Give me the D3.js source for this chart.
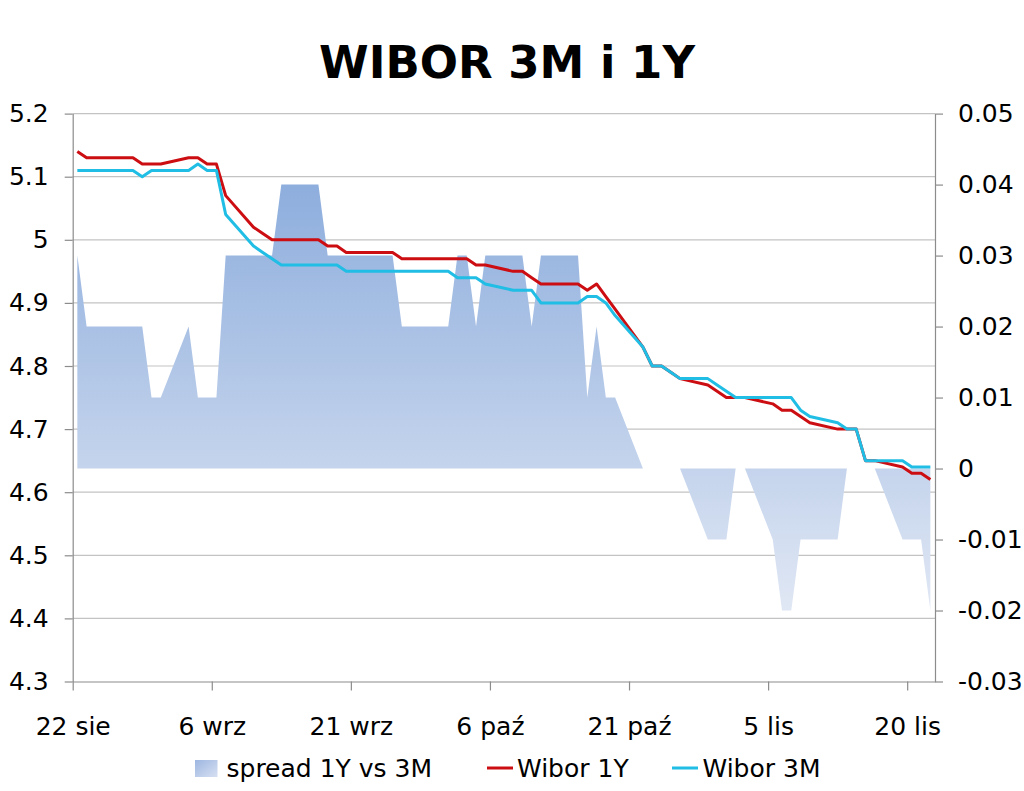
<!DOCTYPE html>
<html>
<head>
<meta charset="utf-8">
<style>
body { margin: 0; background: #fff; }
svg text { font-family: "DejaVu Sans", Verdana, sans-serif; fill: #000; }
.title { font-size: 45px; font-weight: bold; }
.axis text { font-size: 25px; }
.axis path, .axis line { stroke: #8c8c8c; stroke-width: 1.2; }
.grid line { stroke: #c3c3c3; stroke-width: 1.2; }
.legend text { font-size: 25px; }
.line { fill: none; stroke-width: 3; stroke-linejoin: round; }
</style>
</head>
<body>
<svg width="1024" height="791"></svg>
<script src="https://d3js.org/d3.v7.min.js"></script>
<script>
// business days shown on the chart
var dates = ["2012-08-22","2012-08-23","2012-08-24","2012-08-27","2012-08-28","2012-08-29","2012-08-30","2012-08-31",
  "2012-09-03","2012-09-04","2012-09-05","2012-09-06","2012-09-07","2012-09-10","2012-09-11","2012-09-12","2012-09-13","2012-09-14",
  "2012-09-17","2012-09-18","2012-09-19","2012-09-20","2012-09-21","2012-09-24","2012-09-25","2012-09-26","2012-09-27","2012-09-28",
  "2012-10-01","2012-10-02","2012-10-03","2012-10-04","2012-10-05","2012-10-08","2012-10-09","2012-10-10","2012-10-11","2012-10-12",
  "2012-10-15","2012-10-16","2012-10-17","2012-10-18","2012-10-19","2012-10-22","2012-10-23","2012-10-24","2012-10-25","2012-10-26",
  "2012-10-29","2012-10-30","2012-10-31","2012-11-01","2012-11-02","2012-11-05","2012-11-06","2012-11-07","2012-11-08","2012-11-09",
  "2012-11-12","2012-11-13","2012-11-14","2012-11-15","2012-11-16","2012-11-19","2012-11-20","2012-11-21","2012-11-22"];

var wibor1Y = [5.14,5.13,5.13,5.13,5.13,5.12,5.12,5.12,
  5.13,5.13,5.12,5.12,5.07,5.02,5.01,5.00,5.00,5.00,5.00,4.99,4.99,4.98,4.98,4.98,4.98,4.97,4.97,4.97,
  4.97,4.97,4.97,4.96,4.96,4.95,4.95,4.94,4.93,4.93,4.93,4.92,4.93,4.91,4.89,4.83,4.80,4.80,4.79,4.78,4.77,4.76,4.75,
  4.75,4.75,4.74,4.73,4.73,4.72,4.71,4.70,4.70,4.70,4.65,4.65,4.64,4.63,4.63,4.62];

var wibor3M = [5.11,5.11,5.11,5.11,5.11,5.10,5.11,5.11,
  5.11,5.12,5.11,5.11,5.04,4.99,4.98,4.97,4.96,4.96,4.96,4.96,4.96,4.95,4.95,4.95,4.95,4.95,4.95,4.95,
  4.95,4.94,4.94,4.94,4.93,4.92,4.92,4.92,4.90,4.90,4.90,4.91,4.91,4.90,4.88,4.83,4.80,4.80,4.79,4.78,4.78,4.77,4.76,
  4.75,4.75,4.75,4.75,4.75,4.73,4.72,4.71,4.70,4.70,4.65,4.65,4.65,4.64,4.64,4.64];

var spread = [0.03,0.02,0.02,0.02,0.02,0.02,0.01,0.01,
  0.02,0.01,0.01,0.01,0.03,0.03,0.03,0.03,0.04,0.04,0.04,0.03,0.03,0.03,0.03,0.03,0.03,0.02,0.02,0.02,
  0.02,0.03,0.03,0.02,0.03,0.03,0.03,0.02,0.03,0.03,0.03,0.01,0.02,0.01,0.01,0,0,0,0,0,-0.01,-0.01,-0.01,
  0,0,-0.01,-0.02,-0.02,-0.01,-0.01,-0.01,0,0,0,0,-0.01,-0.01,-0.01,-0.02];

var xTickDates = ["2012-08-22","2012-09-06","2012-09-21","2012-10-06","2012-10-21","2012-11-05","2012-11-20"];
var xTickLabels = ["22 sie","6 wrz","21 wrz","6 paź","21 paź","5 lis","20 lis"];
var yLeftTicks = [4.3,4.4,4.5,4.6,4.7,4.8,4.9,5.0,5.1,5.2];
var yRightTicks = [-0.03,-0.02,-0.01,0,0.01,0.02,0.03,0.04,0.05];
var seriesNames = ["spread 1Y vs 3M","Wibor 1Y","Wibor 3M"];

var svg = d3.select("svg");
var plotLeft = 72.7, plotRight = 935, plotTop = 113.6, plotBottom = 681.5;

var parse = d3.utcParse("%Y-%m-%d");
// excel date axis: each point sits in the middle of its day
var x = d3.scaleUtc()
  .domain([parse("2012-08-22"), parse("2012-11-23")])
  .range([plotLeft, plotRight]);
var yL = d3.scaleLinear().domain([4.3, 5.2]).range([plotBottom, plotTop]);
var yR = d3.scaleLinear().domain([-0.03, 0.05]).range([plotBottom, plotTop]);

var rows = dates.map(function(d, i) {
  return {date: d3.utcHour.offset(parse(d), 12), y1: wibor1Y[i], m3: wibor3M[i], s: spread[i]};
});

var fmt = function(d) { return String(+d.toFixed(2)); };

var defs = svg.append("defs");
var grad = defs.append("linearGradient")
  .attr("id", "areaGrad")
  .attr("gradientUnits", "userSpaceOnUse")
  .attr("x1", 0).attr("y1", plotTop).attr("x2", 0).attr("y2", plotBottom);
grad.append("stop").attr("offset", 0).attr("stop-color", "#80a4d9");
grad.append("stop").attr("offset", 1).attr("stop-color", "#eef1f8");

var keyGrad = defs.append("linearGradient")
  .attr("id", "keyGrad").attr("x1", 0).attr("y1", 0).attr("x2", 1).attr("y2", 1);
keyGrad.append("stop").attr("offset", 0).attr("stop-color", "#9db6e0");
keyGrad.append("stop").attr("offset", 1).attr("stop-color", "#d7e0f2");

// title
svg.append("text")
  .attr("class", "title")
  .attr("x", 507).attr("y", 78)
  .attr("text-anchor", "middle")
  .text("WIBOR 3M i 1Y");

// gridlines
svg.append("g").attr("class", "grid")
  .selectAll("line")
  .data(yLeftTicks.slice(1))
  .enter().append("line")
  .attr("x1", plotLeft).attr("x2", plotRight)
  .attr("y1", function(d) { return yL(d); })
  .attr("y2", function(d) { return yL(d); });

// spread area on the right axis
var area = d3.area()
  .x(function(d) { return x(d.date); })
  .y0(yR(0))
  .y1(function(d) { return yR(d.s); });

svg.append("path")
  .datum(rows)
  .attr("d", area)
  .attr("fill", "url(#areaGrad)");

var line1Y = d3.line()
  .x(function(d) { return x(d.date); })
  .y(function(d) { return yL(d.y1); });
var line3M = d3.line()
  .x(function(d) { return x(d.date); })
  .y(function(d) { return yL(d.m3); });

svg.append("path").datum(rows).attr("class", "line")
  .attr("stroke", "#cc0e12").attr("d", line1Y);
svg.append("path").datum(rows).attr("class", "line")
  .attr("stroke", "#20bde4").attr("d", line3M);

// axes
svg.append("g").attr("class", "axis")
  .attr("transform", "translate(" + plotLeft + ",0)")
  .call(d3.axisLeft(yL).tickValues(yLeftTicks).tickFormat(fmt)
    .tickSize(8).tickSizeOuter(0).tickPadding(16));

svg.append("g").attr("class", "axis")
  .attr("transform", "translate(" + plotRight + ",0)")
  .call(d3.axisRight(yR).tickValues(yRightTicks).tickFormat(fmt)
    .tickSize(8).tickSizeOuter(0).tickPadding(15));

svg.append("g").attr("class", "axis")
  .attr("transform", "translate(0," + plotBottom + ")")
  .call(d3.axisBottom(x).tickValues(xTickDates.map(parse))
    .tickFormat(function(d, i) { return xTickLabels[i]; })
    .tickSize(9).tickSizeOuter(0).tickPadding(26.5));

svg.selectAll(".axis .domain").attr("fill", "none");

// legend
var legend = svg.append("g").attr("class", "legend");
legend.append("rect")
  .attr("x", 195).attr("y", 760).attr("width", 22.5).attr("height", 17)
  .attr("fill", "url(#keyGrad)");
legend.append("text").attr("x", 226.5).attr("y", 777).text(seriesNames[0]);
legend.append("line")
  .attr("x1", 487).attr("x2", 513).attr("y1", 768).attr("y2", 768)
  .attr("stroke", "#cc0e12").attr("stroke-width", 3);
legend.append("text").attr("x", 517).attr("y", 777).text(seriesNames[1]);
legend.append("line")
  .attr("x1", 672).attr("x2", 698).attr("y1", 768).attr("y2", 768)
  .attr("stroke", "#20bde4").attr("stroke-width", 3);
legend.append("text").attr("x", 702.5).attr("y", 777).text(seriesNames[2]);
</script>
</body>
</html>
